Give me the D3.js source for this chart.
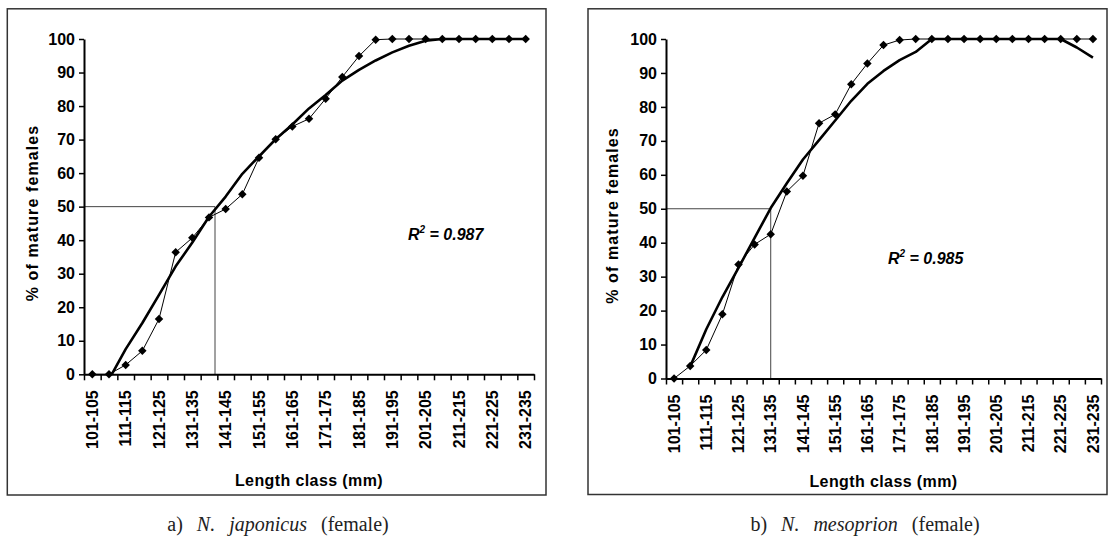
<!DOCTYPE html>
<html>
<head>
<meta charset="utf-8">
<script src="https://cdn.jsdelivr.net/npm/d3@7"></script>
<style>
  body { margin: 0; background: #fff; }
  svg text { font-family: "Liberation Sans", Arial, sans-serif; }
  svg text.caption { font-family: "Liberation Serif", "Times New Roman", serif; }
</style>
</head>
<body>
<svg id="chart" width="1108" height="538"></svg>
<script>
// length classes (mm) on the x axis
const lengthClasses = ["101-105", "106-110", "111-115", "116-120", "121-125", "126-130", "131-135",
  "136-140", "141-145", "146-150", "151-155", "156-160", "161-165", "166-170", "171-175",
  "176-180", "181-185", "186-190", "191-195", "196-200", "201-205", "206-210", "211-215",
  "216-220", "221-225", "226-230", "231-235"];
const tickLabels = ["101-105", "111-115", "121-125", "131-135", "141-145", "151-155", "161-165",
  "171-175", "181-185", "191-195", "201-205", "211-215", "221-225", "231-235"];
const yTicks = [0, 10, 20, 30, 40, 50, 60, 70, 80, 90, 100];

// % of mature females, observed and fitted
const japonicusObserved = [0, 0, 2.8, 7.0, 16.5, 36.4, 40.7, 46.8, 49.3, 53.7, 64.6, 70.1, 73.9, 76.2,
  82.2, 88.7, 94.9, 99.8, 100, 100, 100, 100, 100, 100, 100, 100, 100];
const japonicusFitted = [null, -1.5, 7.5, 15.3, 23.7, 32.2, 39.3, 47, 53, 59.8, 65, 70.1, 74.5, 79.3,
  83.3, 87.6, 90.8, 93.6, 96, 98, 99.5, 100, 100, 100, 100, 100, 100];
const mesoprionObserved = [0, 3.7, 8.4, 18.9, 33.6, 39.5, 42.5, 55.1, 59.7, 75.2, 77.8, 86.7, 92.8, 98.2,
  99.7, 100, 100, 100, 100, 100, 100, 100, 100, 100, 100, 100, 100];
const mesoprionFitted = [null, 3.5, 14.5, 24.0, 32.6, 41.4, 50.2, 57.5, 64.5, 70.2, 76.0, 81.8, 86.8, 90.6,
  93.8, 96.2, 100, 100, 100, 100, 100, 100, 100, 100, 100, 97.5, 94.5];

const l50 = [140.3, 133.5];          // length at 50% maturity (mm)
const rSquared = ["0.987", "0.985"];
const panelLetters = ["a)", "b)"];
const speciesNames = ["N. japonicus", "N. mesoprion"];

const panels = [
  { obs: japonicusObserved, fit: japonicusFitted,
    box: [7.3, 8.8, 546, 495], x0: 84, x1: 534, yBottom: 374.3, yTop: 39,
    yTitle: [38, 213], xTitleY: 486, r2: [408, 240], caption: [278, 531] },
  { obs: mesoprionObserved, fit: mesoprionFitted,
    box: [588, 8.8, 1107, 494.5], x0: 666, x1: 1101, yBottom: 378.5, yTop: 39,
    yTitle: [618, 215.5], xTitleY: 486.5, r2: [888, 264], caption: [865, 531] }
];

const svg = d3.select("#chart");
const bounds = lengthClasses.map(c => +c.split("-")[0]).concat([236]);

panels.forEach((p, k) => {
  const g = svg.append("g");

  g.append("rect")
   .attr("x", p.box[0]).attr("y", p.box[1])
   .attr("width", p.box[2] - p.box[0]).attr("height", p.box[3] - p.box[1])
   .attr("fill", "none").attr("stroke", "#333").attr("stroke-width", 1.5);

  const xBand = d3.scaleBand().domain(lengthClasses).range([p.x0, p.x1]).padding(0);
  const xMm = d3.scaleLinear().domain([101, 236]).range([p.x0, p.x1]);
  const y = d3.scaleLinear().domain([0, 100]).range([p.yBottom, p.yTop]);
  const cx = i => xBand(lengthClasses[i]) + xBand.bandwidth() / 2;

  // 50% reference lines
  g.append("path")
   .attr("d", `M${p.x0},${y(50)}H${xMm(l50[k])}V${y(0)}`)
   .attr("fill", "none").attr("stroke", "#444").attr("stroke-width", 1);

  const clipId = "clip" + k;
  g.append("clipPath").attr("id", clipId)
   .append("rect").attr("x", p.x0).attr("y", p.yTop - 3)
   .attr("width", p.x1 - p.x0).attr("height", p.yBottom - p.yTop + 3);

  const line = d3.line().defined(d => d != null).x((d, i) => cx(i)).y(d => y(d));

  g.append("path")
   .attr("d", line(p.fit))
   .attr("clip-path", `url(#${clipId})`)
   .attr("fill", "none").attr("stroke", "#000").attr("stroke-width", 2.6)
   .attr("stroke-linejoin", "round");

  g.append("path")
   .attr("d", line(p.obs))
   .attr("fill", "none").attr("stroke", "#000").attr("stroke-width", 1);

  const diamond = d3.symbol().type(d3.symbolSquare).size(36);
  g.selectAll(".pt").data(p.obs).join("path")
   .attr("class", "pt")
   .attr("d", diamond)
   .attr("transform", (d, i) => `translate(${cx(i)},${y(d)}) rotate(45)`)
   .attr("fill", "#000");

  // y axis
  const yAxis = g.append("g").attr("transform", `translate(${p.x0},0)`)
   .call(d3.axisLeft(y).tickValues(yTicks).tickSize(5).tickPadding(4).tickSizeOuter(0));
  yAxis.select(".domain").attr("stroke-width", 2);
  yAxis.selectAll(".tick line").attr("stroke-width", 1.5);
  yAxis.selectAll("text").attr("font-size", 16).attr("font-weight", "bold").attr("fill", "#000");

  // x axis: tick marks at class boundaries
  const xAxis = g.append("g").attr("transform", `translate(0,${p.yBottom})`)
   .call(d3.axisBottom(xMm).tickValues(bounds).tickFormat("").tickSize(6).tickSizeOuter(0));
  xAxis.select(".domain").attr("stroke-width", 2);
  xAxis.selectAll(".tick line").attr("stroke-width", 1.5);

  // x labels on every other class
  const xLab = g.append("g").attr("transform", `translate(0,${p.yBottom})`)
   .call(d3.axisBottom(xBand).tickValues(tickLabels).tickSize(0));
  xLab.select(".domain").remove();
  xLab.selectAll("text")
   .attr("transform", "rotate(-90)")
   .attr("text-anchor", "end")
   .attr("x", -16).attr("y", 0).attr("dy", "0.36em")
   .attr("font-size", 16).attr("font-weight", "bold").attr("fill", "#000");

  // titles
  g.append("text")
   .attr("transform", `translate(${p.yTitle[0]},${p.yTitle[1]}) rotate(-90)`)
   .attr("text-anchor", "middle")
   .attr("font-size", 16).attr("font-weight", "bold").attr("letter-spacing", 1.1)
   .text("% of mature females");

  g.append("text")
   .attr("x", (p.x0 + p.x1) / 2).attr("y", p.xTitleY)
   .attr("text-anchor", "middle")
   .attr("font-size", 16).attr("font-weight", "bold").attr("letter-spacing", 0.4)
   .text("Length class (mm)");

  const r2 = g.append("text")
   .attr("x", p.r2[0]).attr("y", p.r2[1])
   .attr("font-size", 16).attr("font-weight", "bold").attr("font-style", "italic");
  r2.append("tspan").text("R");
  r2.append("tspan").attr("dy", -7).attr("font-size", 10).text("2");
  r2.append("tspan").attr("dy", 7).text(" = " + rSquared[k]);

  const cap = g.append("text")
   .attr("class", "caption")
   .attr("x", p.caption[0]).attr("y", p.caption[1])
   .attr("text-anchor", "middle")
   .attr("font-size", 20).attr("word-spacing", 9).attr("fill", "#222");
  cap.append("tspan").text(panelLetters[k] + " ");
  cap.append("tspan").attr("font-style", "italic").text(speciesNames[k]);
  cap.append("tspan").text(" (female)");
});
</script>
</body>
</html>
